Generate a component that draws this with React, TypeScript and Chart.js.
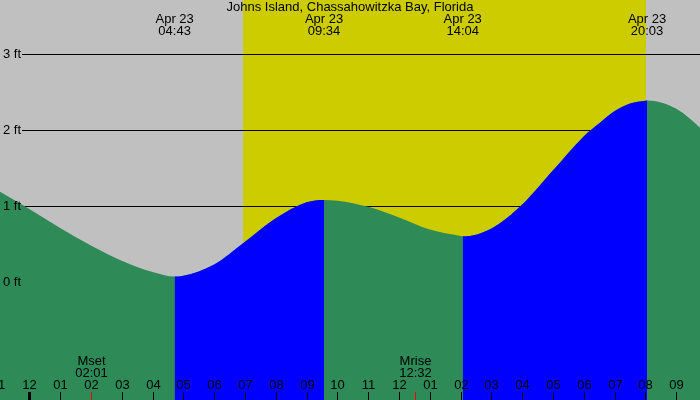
import React, { useEffect, useRef } from "react";
import { Chart, registerables } from "chart.js";

Chart.register(...registerables);

const TITLE = "Johns Island, Chassahowitzka Bay, Florida";

// tide curve readings (hours after midnight Apr 23, feet)
const tideHours = [-1, 0, 1, 2, 3, 4, 4.717, 5, 6, 7, 8, 9, 9.567, 10, 11, 12, 13, 14, 14.067, 15, 16, 17, 18, 18.5, 19, 19.5, 20, 20.05, 21, 22];
const tideFeet = [1.2, 0.96, 0.71, 0.48, 0.28, 0.13, 0.07, 0.08, 0.23, 0.53, 0.84, 1.05, 1.08, 1.07, 0.99, 0.85, 0.69, 0.605, 0.6, 0.705, 1.02, 1.47, 1.92, 2.09, 2.25, 2.35, 2.388, 2.39, 2.28, 1.95];

// tide extremes
const extremeHours = [4.717, 9.567, 14.067, 20.05];
const extremeKinds = ["low", "high", "low", "high"];
const extremeDates = ["Apr 23", "Apr 23", "Apr 23", "Apr 23"];
const extremeTimes = ["04:43", "09:34", "14:04", "20:03"];

// sun
const sunriseHour = 6.95;
const sunsetHour = 20.02;

// moon
const moonLabels = ["Mset", "Mrise"];
const moonTimes = ["02:01", "12:32"];
const moonHours = [2.017, 12.533];

// axes
const hourTicks = [-1, 0, 1, 2, 3, 4, 5, 6, 7, 8, 9, 10, 11, 12, 13, 14, 15, 16, 17, 18, 19, 20, 21];
const hourLabels = ["11", "12", "01", "02", "03", "04", "05", "06", "07", "08", "09", "10", "11", "12", "01", "02", "03", "04", "05", "06", "07", "08", "09"];
const feetTicks = [0, 1, 2, 3];
const feetLabels = ["0 ft", "1 ft", "2 ft", "3 ft"];

const X_MIN = -0.951;
const X_MAX = 21.769;
const Y_MIN = -1.556;
const Y_MAX = 3.714;

const GRAY = "#c0c0c0";
const YELLOW = "#cccc00";
const GREEN = "#2e8b57";
const BLUE = "#0000ff";
const FONT = "13px 'Liberation Sans', Arial, sans-serif";

function isRising(h: number): boolean {
  let kind = "high";
  for (let i = 0; i < extremeHours.length; i++) {
    if (h >= extremeHours[i] - 1e-6) kind = extremeKinds[i];
  }
  return kind === "low";
}

const tidePlugin = {
  id: "tideDecor",
  beforeDraw(chart: any) {
    const { ctx, chartArea: a, scales } = chart;
    const x = scales.x;
    ctx.save();
    ctx.fillStyle = GRAY;
    ctx.fillRect(a.left, a.top, a.right - a.left, a.bottom - a.top);
    const sx = Math.round(x.getPixelForValue(sunriseHour));
    const ex = Math.round(x.getPixelForValue(sunsetHour));
    ctx.fillStyle = YELLOW;
    ctx.fillRect(sx, a.top, ex - sx, a.bottom - a.top);
    ctx.restore();
  },
  beforeDatasetsDraw(chart: any) {
    const { ctx, chartArea: a, scales } = chart;
    const y = scales.y;
    ctx.save();
    ctx.strokeStyle = "#000";
    ctx.lineWidth = 1;
    feetTicks.forEach((v) => {
      if (v <= 0) return;
      const py = Math.round(y.getPixelForValue(v)) + 0.5;
      ctx.beginPath();
      ctx.moveTo(22, py);
      ctx.lineTo(a.right, py);
      ctx.stroke();
    });
    ctx.restore();
  },
  afterDatasetsDraw(chart: any) {
    const { ctx, chartArea: a, scales } = chart;
    const x = scales.x;
    const y = scales.y;
    ctx.save();
    ctx.fillStyle = "#000";
    ctx.font = FONT;
    ctx.textBaseline = "middle";

    ctx.textAlign = "center";
    ctx.fillText(TITLE, (a.left + a.right) / 2, 7.5);

    extremeHours.forEach((h, i) => {
      const px = x.getPixelForValue(h);
      ctx.fillText(extremeDates[i], px, 19.5);
      ctx.fillText(extremeTimes[i], px, 31.5);
    });

    ctx.textAlign = "left";
    feetTicks.forEach((v, i) => {
      ctx.fillText(feetLabels[i], 3, y.getPixelForValue(v) + 0.5);
    });

    ctx.textAlign = "center";
    hourTicks.forEach((h, i) => {
      const px = Math.round(x.getPixelForValue(h));
      ctx.fillStyle = "#000";
      if (h === 0) ctx.fillRect(px - 1, 392, 3, 8);
      else ctx.fillRect(px, 392, 1, 8);
      ctx.fillText(hourLabels[i], px + 0.5, 385);
    });

    moonHours.forEach((h, i) => {
      const px = Math.round(x.getPixelForValue(h));
      ctx.fillStyle = "#ff0000";
      ctx.fillRect(px, 392, 1, 8);
      ctx.fillStyle = "#000";
      ctx.fillText(moonLabels[i], px + 0.5, 361.5);
      ctx.fillText(moonTimes[i], px + 0.5, 373.5);
    });
    ctx.restore();
  },
};

export default function App() {
  const ref = useRef<HTMLCanvasElement | null>(null);
  useEffect(() => {
    if (!ref.current) return;
    const data = tideHours.map((h, i) => ({ x: h, y: tideFeet[i] }));
    const common = {
      data,
      fill: "start",
      borderWidth: 0,
      borderColor: "rgba(0,0,0,0)",
      pointRadius: 0,
      cubicInterpolationMode: "monotone",
    };
    const chart = new Chart(ref.current, {
      type: "line",
      data: {
        datasets: [
          {
            ...common,
            label: "falling",
            backgroundColor: GREEN,
            order: 2,
          } as any,
          {
            ...common,
            label: "rising",
            backgroundColor: BLUE,
            order: 1,
            segment: {
              backgroundColor: (c: any) => (isRising(c.p0.parsed.x) ? BLUE : "rgba(0,0,0,0)"),
            },
          } as any,
        ],
      },
      options: {
        animation: false,
        responsive: false,
        devicePixelRatio: 1,
        layout: { padding: 0 },
        events: [],
        scales: {
          x: { type: "linear", min: X_MIN, max: X_MAX, display: false },
          y: { type: "linear", min: Y_MIN, max: Y_MAX, display: false },
        },
        plugins: {
          legend: { display: false },
          tooltip: { enabled: false },
          title: { display: false },
        },
      },
      plugins: [tidePlugin],
    });
    return () => chart.destroy();
  }, []);
  return (
    <div style={{ position: "fixed", left: 0, top: 0, width: 700, height: 400 }}>
      <canvas ref={ref} width={700} height={400} style={{ display: "block" }} />
    </div>
  );
}
